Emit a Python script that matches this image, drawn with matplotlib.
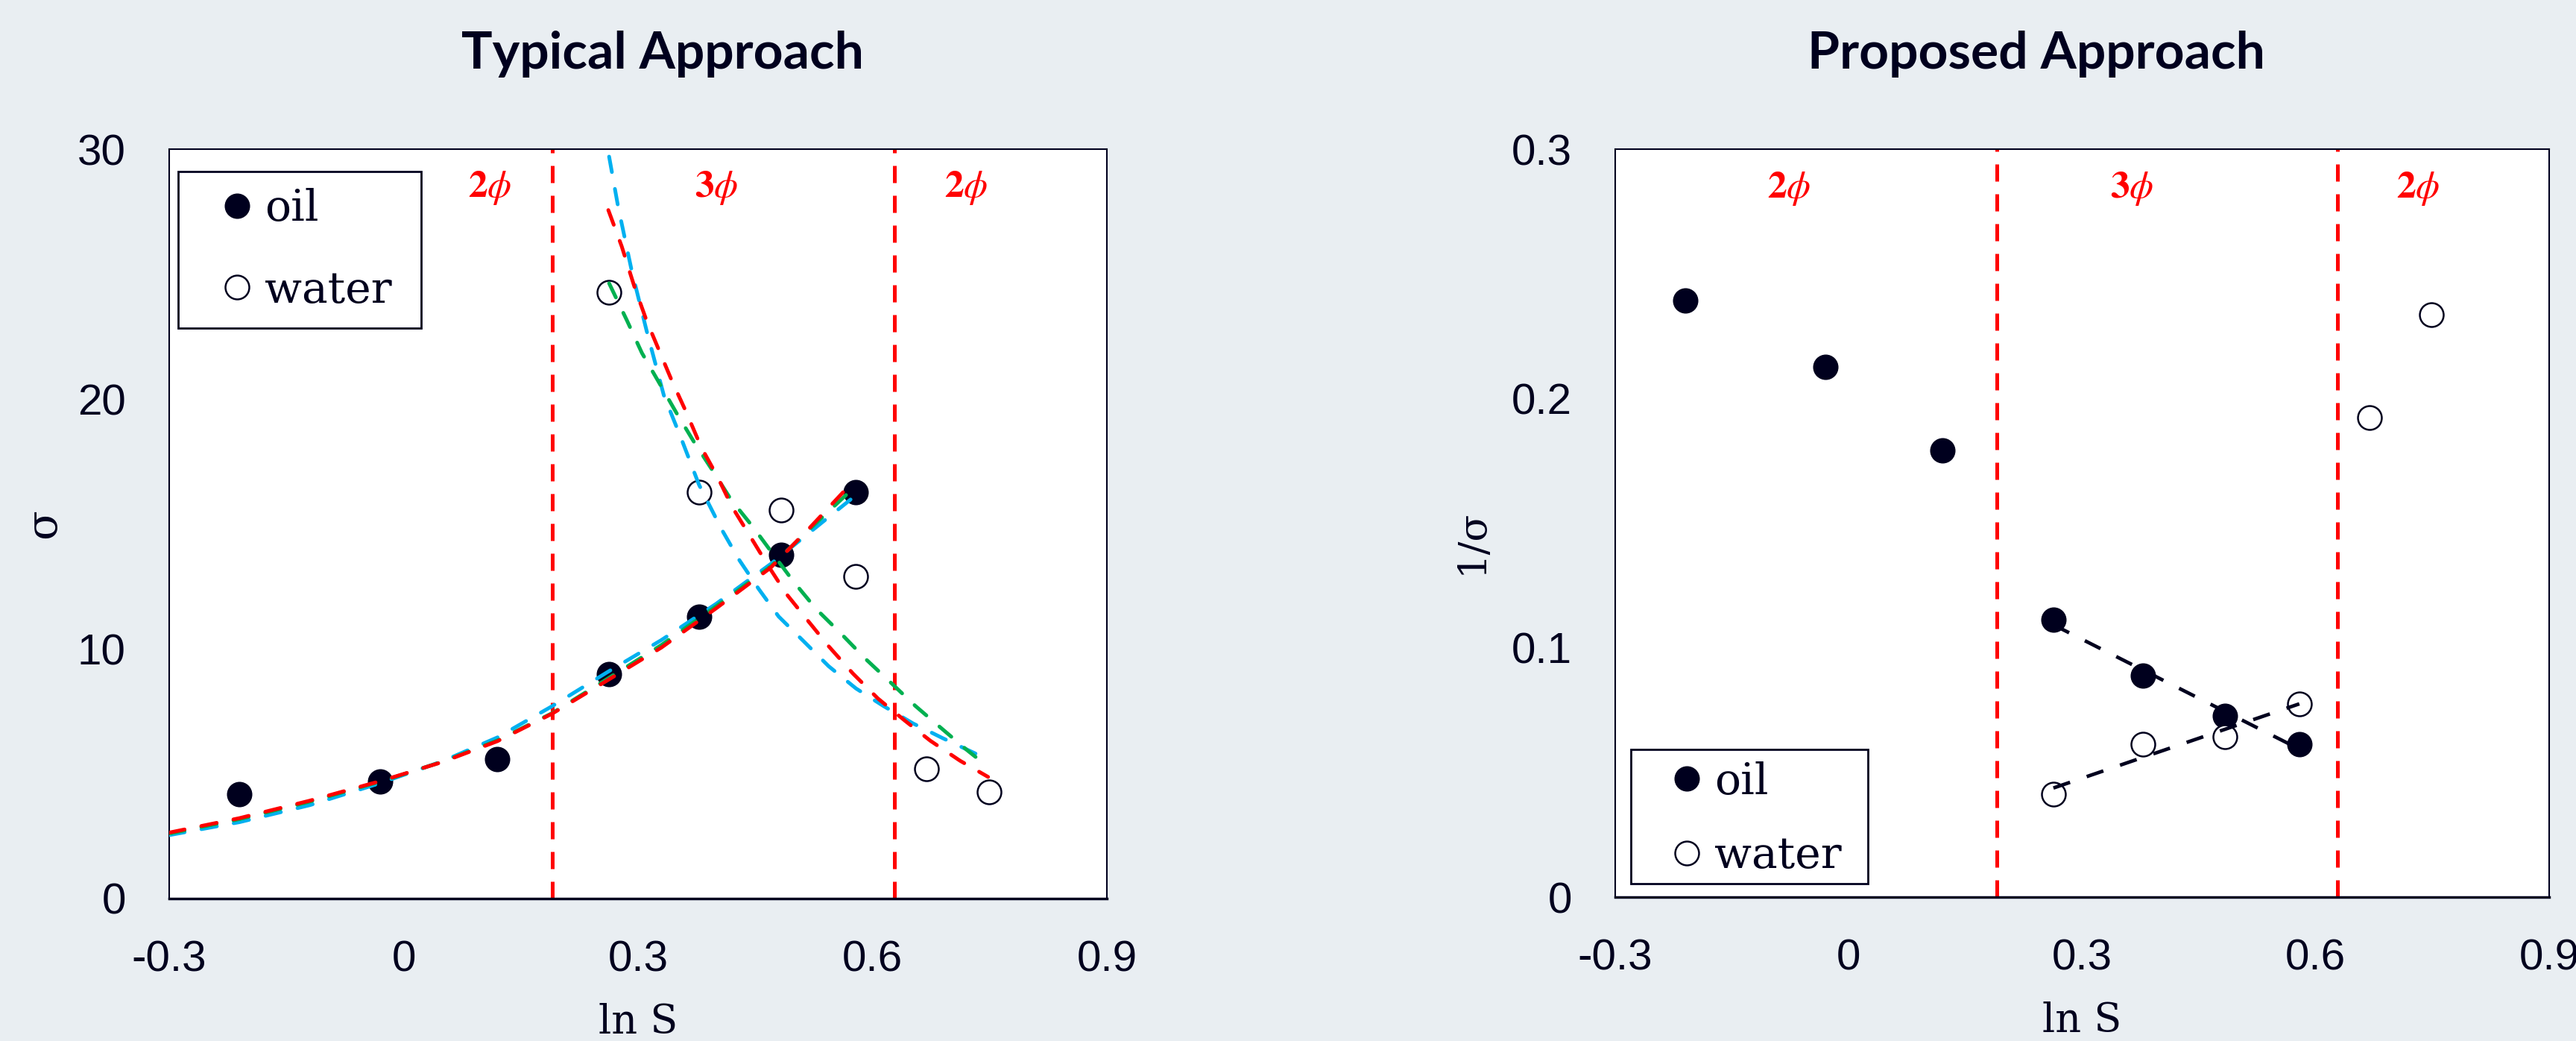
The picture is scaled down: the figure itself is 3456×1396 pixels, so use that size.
import numpy as np
import matplotlib
matplotlib.use("Agg")
import matplotlib.pyplot as plt
from matplotlib.lines import Line2D
from matplotlib.patches import Rectangle

# measured points: interfacial tension sigma against ln S
ln_s_oil = [-0.21, -0.03, 0.12, 0.263, 0.378, 0.483, 0.579]
sigma_oil = [4.18, 4.70, 5.58, 8.99, 11.27, 13.75, 16.27]
ln_s_water = [0.263, 0.378, 0.483, 0.579, 0.669, 0.749]
sigma_water = [24.28, 16.27, 15.55, 12.89, 5.20, 4.28]

# three-phase window (ln S) and the region labels
phase_bounds = [0.19, 0.628]
phase_names = [r"$\mathbf{2}\phi$", r"$\mathbf{3}\phi$", r"$\mathbf{2}\phi$"]
phase_x_typical = [0.11, 0.40, 0.72]
phase_x_proposed = [-0.077, 0.364, 0.732]

# fitted curves of the typical approach (sampled along each fit)
red_oil_x = [-0.3, -0.21, -0.12, -0.03, 0.05, 0.12, 0.19, 0.26, 0.33, 0.40, 0.47, 0.52, 0.577]
red_oil_y = [2.64, 3.22, 3.92, 4.70, 5.47, 6.30, 7.40, 8.72, 10.05, 11.62, 13.25, 14.85, 16.75]
green_oil_x = [-0.3, -0.21, -0.12, -0.03, 0.05, 0.12, 0.19, 0.26, 0.33, 0.40, 0.47, 0.52, 0.578]
green_oil_y = [2.60, 3.18, 3.88, 4.68, 5.48, 6.33, 7.42, 8.78, 10.15, 11.70, 13.30, 14.80, 16.50]
blue_oil_x = [-0.3, -0.21, -0.12, -0.03, 0.05, 0.12, 0.19, 0.26, 0.33, 0.40, 0.47, 0.54, 0.579]
blue_oil_y = [2.54, 3.06, 3.74, 4.62, 5.50, 6.45, 7.70, 9.05, 10.35, 11.80, 13.40, 15.17, 16.15]

red_water_x = [0.262, 0.279, 0.295, 0.311, 0.327, 0.343, 0.362, 0.381, 0.402, 0.420, 0.442,
               0.466, 0.490, 0.518, 0.544, 0.575, 0.607, 0.642, 0.674, 0.712, 0.748]
red_water_y = [27.56, 26.12, 24.53, 23.13, 21.94, 20.75, 19.45, 18.06, 16.87, 15.70, 14.58,
               13.35, 12.19, 11.10, 10.10, 9.01, 8.01, 7.11, 6.32, 5.52, 4.87]
green_water_x = [0.263, 0.286, 0.305, 0.327, 0.349, 0.372, 0.397, 0.419, 0.447, 0.473,
                 0.499, 0.528, 0.560, 0.591, 0.623, 0.655, 0.690, 0.722, 0.732]
green_water_y = [24.63, 23.13, 21.84, 20.65, 19.45, 18.26, 17.06, 15.97, 14.88, 13.78,
                 12.69, 11.59, 10.60, 9.60, 8.66, 7.71, 6.77, 5.92, 5.67]
blue_water_x = [0.263, 0.2745, 0.292, 0.311, 0.333, 0.356, 0.378, 0.407, 0.429, 0.4545,
                0.480, 0.512, 0.544, 0.579, 0.614, 0.652, 0.690, 0.741]
blue_water_y = [29.70, 27.70, 25.12, 22.73, 20.15, 18.36, 16.57, 14.78, 13.58, 12.39,
                11.29, 10.30, 9.30, 8.41, 7.71, 7.01, 6.42, 5.67]

BG = "#E9EEF2"
INK = "#00001E"
RED = "#FF0000"
GREEN = "#00B050"
BLUE = "#00B0F0"

plt.rcParams["mathtext.fontset"] = "stix"

xticks = [-0.3, 0, 0.3, 0.6, 0.9]
xtick_labels = ["-0.3", "0", "0.3", "0.6", "0.9"]


def style_axes(ax, yticks, ytick_labels, ymax):
    ax.set_xlim(-0.3, 0.9)
    ax.set_ylim(0, ymax)
    ax.set_xticks(xticks)
    ax.set_xticklabels(xtick_labels)
    ax.set_yticks(yticks)
    ax.set_yticklabels(ytick_labels)
    ax.tick_params(axis="both", length=0, labelsize=42, labelcolor=INK)
    ax.tick_params(axis="x", pad=40)
    ax.tick_params(axis="y", pad=42)
    for lab in ax.get_xticklabels() + ax.get_yticklabels():
        lab.set_family("Liberation Sans")
    for sp in ax.spines.values():
        sp.set_color(INK)
        sp.set_linewidth(1.5)
    ax.spines["bottom"].set_linewidth(2.5)
    ax.set_xlabel("ln S", fontsize=39, family="DejaVu Serif", color=INK, labelpad=22)
    for xb in phase_bounds:
        ax.axvline(xb, color=RED, lw=3.6, dashes=(4.6, 3.4), zorder=1)


def scatter_points(ax, x_oil, y_oil, x_water, y_water):
    ax.plot(x_oil, y_oil, ls="none", marker="o", ms=23, mfc=INK, mec=INK, mew=1.5, zorder=2)
    ax.plot(x_water, y_water, ls="none", marker="o", ms=23, mfc="white", mec=INK, mew=1.8, zorder=2)


def add_legend(ax, box, anchor, spacing):
    # box: x0, y0, x1, y1 of the frame in axes fraction
    x0, y0, x1, y1 = box
    ax.add_patch(Rectangle((x0, y0), x1 - x0, y1 - y0, transform=ax.transAxes,
                           facecolor="white", edgecolor=INK, lw=2.0, zorder=4))
    handles = [
        Line2D([], [], ls="none", marker="o", ms=23, mfc=INK, mec=INK, mew=1.5),
        Line2D([], [], ls="none", marker="o", ms=23, mfc="white", mec=INK, mew=1.8),
    ]
    leg = ax.legend(handles, ["oil", "water"], loc="center left", bbox_to_anchor=anchor,
                    prop={"family": "DejaVu Serif", "size": 42}, frameon=False,
                    borderpad=0, labelspacing=spacing, handlelength=1.0,
                    handletextpad=0.13, borderaxespad=0)
    for t in leg.get_texts():
        t.set_color(INK)
    leg.set_zorder(5)


fig = plt.figure(figsize=(34.56, 13.96), dpi=100, facecolor=BG)
ax1 = fig.add_axes([0.06568, 0.13682, 0.36400, 0.71991])
ax2 = fig.add_axes([0.62703, 0.13825, 0.36256, 0.71848])

# typical approach: sigma with the three fitted models
style_axes(ax1, [0, 10, 20, 30], ["0", "10", "20", "30"], 30)
scatter_points(ax1, ln_s_oil, sigma_oil, ln_s_water, sigma_water)
curve_kw = dict(lw=3.6, dashes=(4.2, 4.6), dash_capstyle="round", zorder=3)
ax1.plot(blue_oil_x, blue_oil_y, color=BLUE, **curve_kw)
ax1.plot(blue_water_x, blue_water_y, color=BLUE, **curve_kw)
ax1.plot(green_oil_x, green_oil_y, color=GREEN, **curve_kw)
ax1.plot(green_water_x, green_water_y, color=GREEN, **curve_kw)
ax1.plot(red_oil_x, red_oil_y, color=RED, **curve_kw)
ax1.plot(red_water_x, red_water_y, color=RED, **curve_kw)
for name, xp in zip(phase_names, phase_x_typical):
    ax1.text(xp, 28.45, name, color=RED, fontsize=37, ha="center", va="center")
ax1.set_ylabel("\u03c3", fontsize=42, family="DejaVu Serif", color=INK)
ax1.yaxis.set_label_coords(-0.112, 0.5)
add_legend(ax1, (0.0095, 0.7612, 0.2687, 0.9701), (0.0493, 0.8657), 0.92)

# proposed approach: 1/sigma with straight-line fits in the 3-phase window
inv_oil = 1.0 / np.array(sigma_oil)
inv_water = 1.0 / np.array(sigma_water)
style_axes(ax2, [0, 0.1, 0.2, 0.3], ["0", "0.1", "0.2", "0.3"], 0.3)
scatter_points(ax2, ln_s_oil, inv_oil, ln_s_water, inv_water)

xo = np.array(ln_s_oil)
xw = np.array(ln_s_water)
in_oil = (xo > phase_bounds[0]) & (xo < phase_bounds[1])
in_water = (xw > phase_bounds[0]) & (xw < phase_bounds[1])
for xs, ys in [(xo[in_oil], inv_oil[in_oil]), (xw[in_water], inv_water[in_water])]:
    k, b = np.polyfit(xs, ys, 1)
    xx = np.array([xs.min(), xs.max()])
    ax2.plot(xx, k * xx + b, color=INK, lw=3.4, dashes=(5.0, 5.0), zorder=3)

for name, xp in zip(phase_names, phase_x_proposed):
    ax2.text(xp, 0.284, name, color=RED, fontsize=37, ha="center", va="center")
ax2.set_ylabel("1/\u03c3", fontsize=38, family="DejaVu Serif", color=INK)
ax2.yaxis.set_label_coords(-0.134, 0.475)
add_legend(ax2, (0.0168, 0.0179, 0.2706, 0.1974), (0.0535, 0.1042), 0.75)

fig.text(889 / 3456, 1 - 73 / 1396, "Typical Approach", fontsize=50, fontweight="bold",
         family="Lato", color=INK, ha="center", va="center")
fig.text(2732 / 3456, 1 - 73 / 1396, "Proposed Approach", fontsize=50, fontweight="bold",
         family="Lato", color=INK, ha="center", va="center")

fig.savefig("out.png", dpi=100, facecolor=BG)
